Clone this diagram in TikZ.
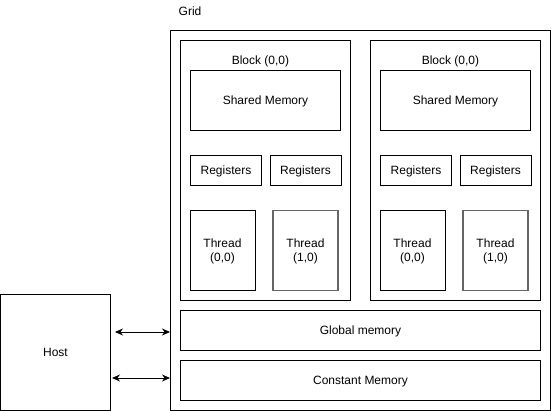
\documentclass[tikz,border=0pt]{standalone}
\usepackage{fontspec}
\setmainfont{Liberation Sans}
\usetikzlibrary{arrows.meta}
\begin{document}
\begin{tikzpicture}[x=1pt,y=-1pt,
    box/.style={draw, line width=1pt, inner sep=0pt, align=center,
        font=\fontsize{12}{14}\selectfont, text depth=-1pt},
    lbl/.style={inner sep=0pt, font=\fontsize{12}{14}\selectfont},
    thread/.style={box, minimum width=65pt, minimum height=80pt},
    reg/.style={box, minimum width=71pt, minimum height=30pt}]
    \useasboundingbox (0,0) rectangle (551,411);
    \node[box, minimum width=380pt, minimum height=380pt] (grid) at (360.5,220.5) {};
    \node[lbl] (gridlbl) at (190,11) {Grid};
    \foreach \i/\x in {1/265.5, 2/455.5} {
        \node[box, minimum width=170pt, minimum height=260pt] (block\i) at (\x,170.5) {};
        \node[lbl] (blocklbl\i) at (\x-5,61) {Block (0,0)};
        \node[box, minimum width=150pt, minimum height=60pt] (shared\i) at (\x,100.5) {Shared Memory};
        \node[reg] (regA\i) at (\x-39.5,170.5) {Registers};
        \node[reg] (regB\i) at (\x+40,170.5) {Registers};
        \node[thread] (threadA\i) at (\x-43,250.5) {Thread\\(0,0)};
        \node[thread, draw=black!60, line width=1.6pt] (threadB\i) at (\x+40,250.5) {Thread\\(1,0)};
    }
    \node[box, minimum width=360pt, minimum height=40pt] (global) at (360.5,330.5) {Global memory};
    \node[box, minimum width=360pt, minimum height=40pt] (const) at (360.5,380.5) {Constant Memory};
    \node[box, minimum width=110pt, minimum height=115pt] (host) at (55.5,352.5) {Host};
    \draw[line width=1pt, {Stealth[length=8pt,width=7pt]}-{Stealth[length=8pt,width=7pt]}]
        ([xshift=4pt]host.east |- 0,332) -- (grid.west |- 0,332);
    \draw[line width=1pt, {Stealth[length=8pt,width=7pt]}-{Stealth[length=8pt,width=7pt]}]
        ([xshift=1pt]host.east |- 0,378) -- (grid.west |- 0,378);
\end{tikzpicture}
\end{document}
